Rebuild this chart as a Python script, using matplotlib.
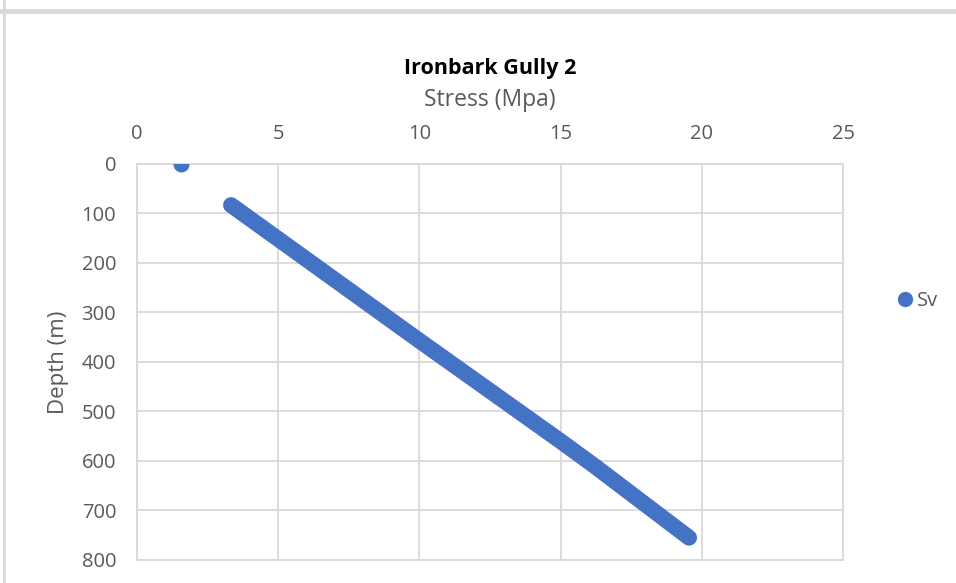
import matplotlib.pyplot as plt
from matplotlib.lines import Line2D

# data
top_stress = [1.55]
top_depth = [0]
sv_stress = [3.33, 10.0, 15.0, 16.2, 19.55]
sv_depth = [83, 357, 560, 610, 755]
x_ticks = [0, 5, 10, 15, 20, 25]
y_ticks = [0, 100, 200, 300, 400, 500, 600, 700, 800]

blue = '#4472C4'
grid = '#d9d9d9'
txt = '#595959'
plt.rcParams['font.family'] = ['Open Sans', 'DejaVu Sans']

fig = plt.figure(figsize=(9.56, 5.83), dpi=100)
ax = fig.add_axes([0.1433, 0.0395, 0.7385, 0.6792])

# the many Sv points sit so close together they form a solid band
ax.plot(sv_stress, sv_depth, color=blue, lw=11.5, solid_capstyle='round',
        solid_joinstyle='round', zorder=3)
ax.plot(top_stress, top_depth, 'o', color=blue, ms=11.5, mew=0, zorder=3)

ax.set_xlim(0, 25)
ax.set_ylim(800, 0)
ax.set_xticks(x_ticks)
ax.set_yticks(y_ticks)
ax.xaxis.tick_top()
ax.xaxis.set_label_position('top')
ax.tick_params(length=0, labelsize=14.5, colors=txt)
ax.tick_params(axis='x', pad=14.5)
ax.tick_params(axis='y', pad=15)
ax.grid(True, color=grid, lw=1.3)
ax.set_axisbelow(True)
for s in ax.spines.values():
    s.set_color(grid)
    s.set_linewidth(1.3)

ax.set_xlabel('Stress (Mpa)', fontsize=16.5, color=txt, labelpad=13)
ax.set_ylabel('Depth (m)', fontsize=16, color=txt, labelpad=9)
ax.set_title('Ironbark Gully 2', fontsize=15.5, fontweight='bold', color='black', pad=10)

handle = Line2D([], [], marker='o', ls='', color=blue, ms=11, mew=0)
fig.legend([handle], ['Sv'], loc='center left', bbox_to_anchor=(0.917, 0.483),
           frameon=False, fontsize=14.5, handletextpad=0.1, labelcolor=txt,
           handlelength=1.0)

# chart frame lines
fig.add_artist(Line2D([0, 1], [1 - 10.5 / 583] * 2, color=grid, lw=3.5, transform=fig.transFigure))
fig.add_artist(Line2D([3.5 / 956] * 2, [0, 1], color=grid, lw=2, transform=fig.transFigure))

fig.savefig('out.png', dpi=100)
